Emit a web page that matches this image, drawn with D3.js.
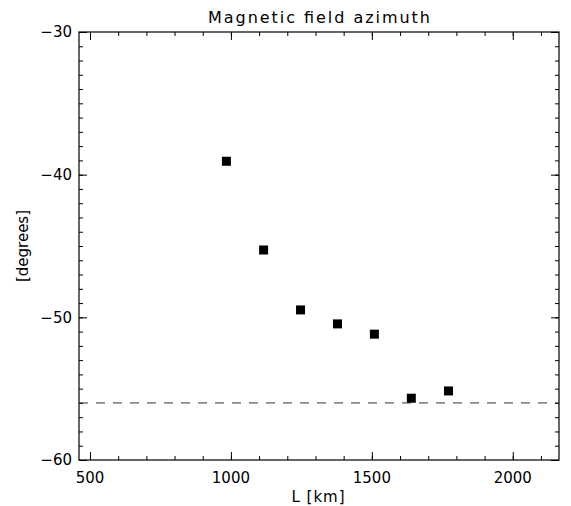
<!DOCTYPE html>
<html><head><meta charset="utf-8">
<script src="https://cdn.jsdelivr.net/npm/d3@7"></script>
<style>
body{margin:0;background:#fff;}
text{font-family:"DejaVu Sans",sans-serif;fill:#000;}
</style></head>
<body><svg id="c" width="571" height="506"></svg>
<script>
const lengthKm = [984, 1116, 1247, 1378, 1509, 1640, 1772];
const azimuthDeg = [-39.06, -45.28, -49.48, -50.46, -51.18, -55.67, -55.16];
const referenceLevel = -56;
const xTicks = [500, 1000, 1500, 2000];
const yTicks = [-60, -50, -40, -30];

const svg = d3.select("#c");
const L = 79, R = 559, T = 32, B = 460;
const x = d3.scaleLinear().domain([461, 2164]).range([L, R]);
const y = d3.scaleLinear().domain([-60, -30]).range([B, T]);

const xMinor = d3.range(500, 2164, 100);
const yMinor = d3.range(-60, -29, 1);

function axis(gen, pos, major, minor, majorLen, minorLen, showLabels){
  const g = svg.append("g").attr("transform", pos);
  g.call(gen.tickValues(minor).tickSize(minorLen).tickFormat(""));
  g.selectAll("path.domain").remove();
  const g2 = svg.append("g").attr("transform", pos);
  g2.call(gen.tickValues(major).tickSize(majorLen).tickFormat(showLabels ? (d=>d<0?"\u2212"+(-d):d) : ""));
  g2.selectAll("path.domain").remove();
  svg.selectAll("g .tick line").attr("stroke","#000").attr("stroke-width",1);
  return g2;
}
// bottom
const gb = axis(d3.axisTop(x), `translate(0,${B})`, xTicks, xMinor, 8, 4, false);
// labels for bottom placed separately
svg.append("g").selectAll("text").data(xTicks).join("text")
  .attr("x", d=>x(d)).attr("y", 483).attr("text-anchor","middle")
  .attr("font-size", 15).text(d=>d);
axis(d3.axisBottom(x), `translate(0,${T})`, xTicks, xMinor, 8, 4, false);
axis(d3.axisRight(y), `translate(${L},0)`, yTicks, yMinor, 8, 4, false);
axis(d3.axisLeft(y), `translate(${R},0)`, yTicks, yMinor, 8, 4, false);
svg.append("g").selectAll("text").data(yTicks).join("text")
  .attr("x", 72).attr("y", d=>y(d)).attr("dy","0.36em").attr("text-anchor","end")
  .attr("font-size", 15).text(d=>"\u2212"+(-d));

svg.append("rect").attr("x",L).attr("y",T).attr("width",R-L).attr("height",B-T)
  .attr("fill","none").attr("stroke","#000").attr("stroke-width",1.2);

svg.append("line").attr("x1",L).attr("x2",R)
  .attr("y1",y(referenceLevel)).attr("y2",y(referenceLevel))
  .attr("stroke","#333").attr("stroke-width",1).attr("stroke-dasharray","9,8");

const s = 9;
svg.append("g").selectAll("rect").data(lengthKm).join("rect")
  .attr("x",(d)=>x(d)-s/2).attr("y",(d,i)=>y(azimuthDeg[i])-s/2)
  .attr("width",s).attr("height",s).attr("fill","#000");

svg.append("text").attr("x",319).attr("y",23).attr("text-anchor","middle")
  .attr("font-size",16).attr("textLength",222).attr("lengthAdjust","spacing")
  .text("Magnetic field azimuth");
svg.append("text").attr("x",318).attr("y",502).attr("text-anchor","middle")
  .attr("font-size",15).attr("textLength",53).attr("lengthAdjust","spacing")
  .text("L [km]");
svg.append("text").attr("transform","translate(28,246) rotate(-90)").attr("text-anchor","middle")
  .attr("font-size",15).text("[degrees]");
</script></body></html>
